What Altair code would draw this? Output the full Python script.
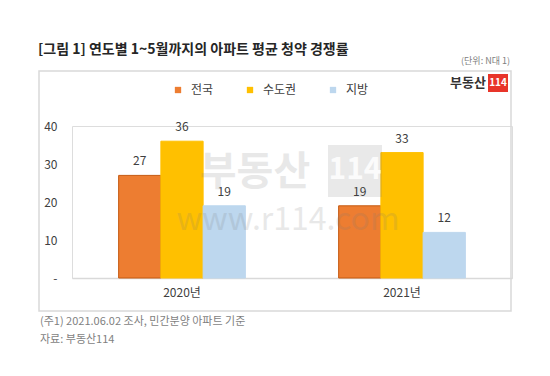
import altair as alt
import pandas as pd

years = ["2020년", "2021년"]
regions = ["전국", "수도권", "지방"]
v_national = [27, 19]
v_capital = [36, 33]
v_local = [19, 12]
colors = ["#ED7D31", "#FFC000", "#BDD7EE"]
strokes = ["#C55A11", "#FFC000", "#BDD7EE"]

rows = []
for i, y in enumerate(years):
    for r, vals in zip(regions, [v_national, v_capital, v_local]):
        rows.append({"year": y, "region": r, "value": vals[i]})
df = pd.DataFrame(rows)

FONT = "Noto Sans CJK KR"

base = alt.Chart(df).encode(
    x=alt.X("year:N", sort=years, title=None,
            scale=alt.Scale(paddingInner=0.04, paddingOuter=0.02),
            axis=alt.Axis(labelAngle=0, ticks=False, domainColor="#d9d9d9", domainWidth=1.5,
                          labelFont=FONT, labelFontSize=12, labelColor="#404040", labelPadding=9)),
    xOffset=alt.XOffset("region:N", sort=regions,
                        scale=alt.Scale(paddingOuter=1, paddingInner=0)),
    y=alt.Y("value:Q", title=None, scale=alt.Scale(domain=[0, 40]),
            axis=alt.Axis(values=[0, 10, 20, 30, 40], domain=False, ticks=False, grid=False,
                          labelExpr="datum.value == 0 ? '-' : datum.label",
                          labelFont=FONT, labelFontSize=12, labelColor="#404040", labelPadding=15)),
)

bars = base.mark_bar(strokeWidth=1).encode(
    color=alt.Color("region:N", sort=regions,
                    scale=alt.Scale(domain=regions, range=colors),
                    legend=alt.Legend(title=None, orient="none", direction="horizontal",
                                      legendX=100, legendY=-42, symbolType="square",
                                      symbolSize=40, symbolStrokeWidth=0, labelFont=FONT,
                                      labelFontSize=12, labelColor="#404040", labelOffset=7,
                                      columnPadding=30)),
    stroke=alt.Stroke("region:N", sort=regions,
                      scale=alt.Scale(domain=regions, range=strokes), legend=None),
)

labels = base.mark_text(baseline="bottom", dy=-7, font=FONT, fontSize=12, color="#404040").encode(
    text="value:Q")

one = alt.Data(values=[{}])

def txt(text, x, y, size, color, weight="normal", align="left", opacity=1.0):
    return alt.Chart(one).mark_text(text=text, font=FONT, fontSize=size, color=color,
                                    fontWeight=weight, align=align, baseline="middle",
                                    opacity=opacity).encode(
        x=alt.value(x), y=alt.value(y))

frame = alt.Chart(one).mark_rect(fill=None, stroke="#d9d9d9", strokeWidth=1.5).encode(
    x=alt.value(-33), x2=alt.value(439), y=alt.value(-55), y2=alt.value(185))

WM = "#7a7a7a"
WMO = 0.17
wm_box = alt.Chart(one).mark_rect(color=WM, opacity=WMO).encode(
    x=alt.value(256), x2=alt.value(310), y=alt.value(19), y2=alt.value(71))
wm1 = txt("부동산", 183, 47, 40, WM, weight="bold", align="center", opacity=WMO)
wm2 = txt("114", 283, 44, 30, "#ffffff", weight="bold", align="center", opacity=0.85)
wm3 = txt("www.r114.com", 216, 94, 32, WM, align="center", opacity=WMO)

logo_box = alt.Chart(one).mark_rect(color="#E8352A").encode(
    x=alt.value(416), x2=alt.value(436), y=alt.value(-52), y2=alt.value(-34))
logo1 = txt("부동산", 414, -43, 13, "#333333", weight="bold", align="right")
logo2 = txt("114", 426, -43, 10, "#ffffff", weight="bold", align="center")

title = txt("[그림 1] 연도별 1~5월까지의 아파트 평균 청약 경쟁률", -34, -76, 14, "#262626", weight="bold")
unit = txt("(단위: N대 1)", 438, -65, 9, "#808080", align="right")
foot1 = txt("(주1) 2021.06.02 조사, 민간분양 아파트 기준", -32, 196, 11, "#7f7f7f")
foot2 = txt("자료: 부동산114", -32, 214, 11, "#7f7f7f")

chart = alt.layer(
    frame, bars, wm_box, wm1, wm2, wm3, labels, logo_box, logo1, logo2, title, unit, foot1, foot2
).properties(
    width=440, height=152,
    autosize=alt.AutoSizeParams(type="none"),
    padding={"left": 64, "top": 118, "right": 30, "bottom": 80},
).configure_view(stroke=None).configure(background="white")

chart.save("out.html", embed_options={"renderer": "svg", "actions": False})
